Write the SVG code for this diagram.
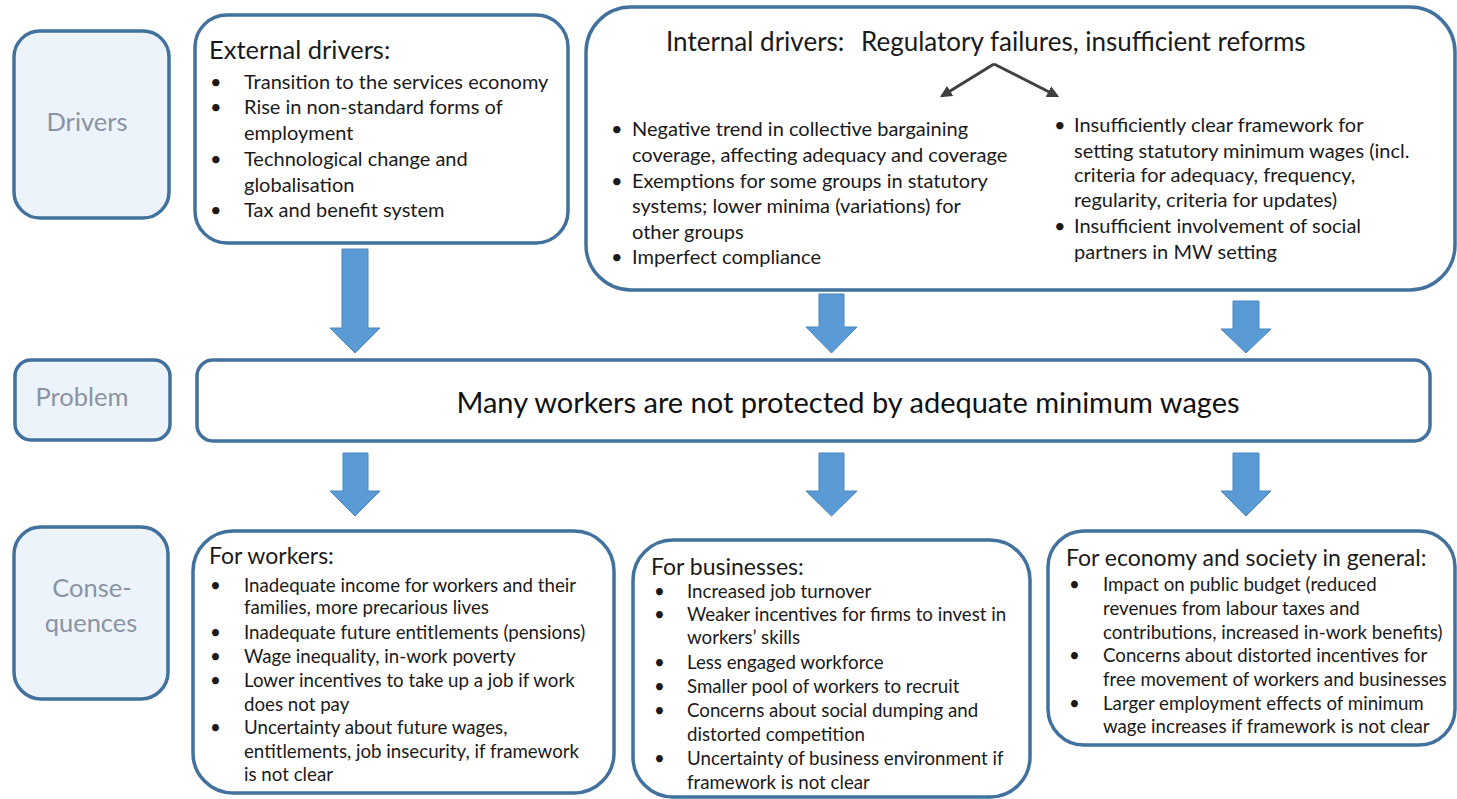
<svg xmlns="http://www.w3.org/2000/svg" width="1457" height="799" viewBox="0 0 1457 799">
<defs>
<style>
.lbl{fill:#EDF3FA;stroke:#41719C;stroke-width:3.5}
.box{fill:#FFFFFF;stroke:#41719C;stroke-width:3.5}
.lt{font-family:Lato,"Liberation Sans",sans-serif;font-size:25.5px;fill:#8A93A3;text-anchor:middle}
.t{font-family:Lato,"Liberation Sans",sans-serif;font-size:18.7px;fill:#1A1A1A}
.te{font-family:Lato,"Liberation Sans",sans-serif;font-size:20px;fill:#1A1A1A}
.h{font-family:Lato,"Liberation Sans",sans-serif;font-size:23px;fill:#1A1A1A}
.he{font-family:Lato,"Liberation Sans",sans-serif;font-size:25.5px;fill:#1A1A1A}
.c{font-family:Lato,"Liberation Sans",sans-serif;font-size:20px;fill:#1A1A1A}
.ch{font-family:Lato,"Liberation Sans",sans-serif;font-size:26px;fill:#1A1A1A}
.arr{fill:#5B9BD5;stroke:#4A86BE;stroke-width:1}
.split{stroke:#404040;stroke-width:3;fill:none;marker-end:url(#ah)}
</style>
<marker id="ah" viewBox="0 0 10 10" refX="8" refY="5" markerWidth="4" markerHeight="4" orient="auto" markerUnits="strokeWidth">
<path d="M0,0 L10,5 L0,10 Z" fill="#404040"/>
</marker>
</defs>

<g id="label-drivers">
<rect class="lbl" x="14" y="31" width="155" height="187" rx="26"/>
<text class="lt" x="87" y="131">Drivers</text>
</g>
<g id="label-problem">
<rect class="lbl" x="15" y="360" width="155" height="80" rx="16"/>
<text class="lt" x="82" y="406">Problem</text>
</g>
<g id="label-consequences">
<rect class="lbl" x="14" y="527" width="154" height="172" rx="27"/>
<text class="lt" x="92" y="597">Conse-</text>
<text class="lt" x="91" y="632">quences</text>
</g>

<g id="external-drivers">
<rect class="box" x="195" y="15" width="373" height="228" rx="32"/>
<text class="he" x="209" y="59">External drivers:</text>
<g class="te">
<text x="210" y="89">•</text><text x="244" y="89">Transition to the services economy</text>
<text x="210" y="114">•</text><text x="244" y="114">Rise in non-standard forms of</text>
<text x="244" y="140">employment</text>
<text x="210" y="166">•</text><text x="244" y="166">Technological change and</text>
<text x="244" y="192">globalisation</text>
<text x="210" y="217">•</text><text x="244" y="217">Tax and benefit system</text>
</g>
</g>

<g id="internal-drivers">
<rect class="box" x="586" y="7" width="869" height="283" rx="45"/>
<text class="ch" x="666" y="51">Internal drivers:<tspan x="861">Regulatory failures, insufficient reforms</tspan></text>
<g class="c">
<text x="611" y="136">•</text><text x="632" y="136">Negative trend in collective bargaining</text>
<text x="632" y="162">coverage, affecting adequacy and coverage</text>
<text x="611" y="188">•</text><text x="632" y="188">Exemptions for some groups in statutory</text>
<text x="632" y="213">systems; lower minima (variations) for</text>
<text x="632" y="239">other groups</text>
<text x="611" y="264">•</text><text x="632" y="264">Imperfect compliance</text>
<text x="1054" y="132">•</text><text x="1074" y="132">Insufficiently clear framework for</text>
<text x="1074" y="158">setting statutory minimum wages (incl.</text>
<text x="1074" y="182">criteria for adequacy, frequency,</text>
<text x="1074" y="207">regularity, criteria for updates)</text>
<text x="1054" y="233">•</text><text x="1074" y="233">Insufficient involvement of social</text>
<text x="1074" y="259">partners in MW setting</text>
</g>
</g>

<g id="problem">
<rect class="box" x="197" y="360" width="1233" height="81" rx="16"/>
<text x="848" y="413" text-anchor="middle" style="font-family:Lato,'Liberation Sans',sans-serif;font-size:29px;fill:#111">Many workers are not protected by adequate minimum wages</text>
</g>

<g id="for-workers">
<rect class="box" x="193" y="531" width="421" height="262" rx="40"/>
<text class="h" x="209" y="564">For workers:</text>
<g class="t">
<text x="210" y="592">•</text><text x="244" y="592">Inadequate income for workers and their</text>
<text x="244" y="614">families, more precarious lives</text>
<text x="210" y="639">•</text><text x="244" y="639">Inadequate future entitlements (pensions)</text>
<text x="210" y="663">•</text><text x="244" y="663">Wage inequality, in-work poverty</text>
<text x="210" y="687">•</text><text x="244" y="687">Lower incentives to take up a job if work</text>
<text x="244" y="711">does not pay</text>
<text x="210" y="734">•</text><text x="244" y="734">Uncertainty about future wages,</text>
<text x="244" y="758">entitlements, job insecurity, if framework</text>
<text x="244" y="781">is not clear</text>
</g>
</g>

<g id="for-businesses">
<rect class="box" x="633" y="540" width="397" height="257" rx="40"/>
<text class="h" x="651" y="575">For businesses:</text>
<g class="t">
<text x="654" y="598">•</text><text x="687" y="598">Increased job turnover</text>
<text x="654" y="621">•</text><text x="687" y="621">Weaker incentives for firms to invest in</text>
<text x="687" y="644">workers’ skills</text>
<text x="654" y="669">•</text><text x="687" y="669">Less engaged workforce</text>
<text x="654" y="693">•</text><text x="687" y="693">Smaller pool of workers to recruit</text>
<text x="654" y="717">•</text><text x="687" y="717">Concerns about social dumping and</text>
<text x="687" y="741">distorted competition</text>
<text x="654" y="765">•</text><text x="687" y="765">Uncertainty of business environment if</text>
<text x="687" y="789">framework is not clear</text>
</g>
</g>

<g id="for-economy">
<rect class="box" x="1048" y="531" width="407" height="214" rx="36"/>
<text class="h" x="1066" y="566">For economy and society in general:</text>
<g class="t">
<text x="1069" y="591">•</text><text x="1103" y="591">Impact on public budget (reduced</text>
<text x="1103" y="615">revenues from labour taxes and</text>
<text x="1103" y="639">contributions, increased in-work benefits)</text>
<text x="1069" y="662">•</text><text x="1103" y="662">Concerns about distorted incentives for</text>
<text x="1103" y="686">free movement of workers and businesses</text>
<text x="1069" y="710">•</text><text x="1103" y="710">Larger employment effects of minimum</text>
<text x="1103" y="733">wage increases if framework is not clear</text>
</g>
</g>

<g id="connectors">
<path class="arr" d="M342,249 H368 V328 H380 L355,353 L330,328 H342 Z"/>
<path class="arr" d="M819,294 H844 V327 H857 L831.5,353 L806,327 H819 Z"/>
<path class="arr" d="M1233,301 H1259 V329 H1271 L1246,353 L1221,329 H1233 Z"/>
<path class="arr" d="M343,453 H368 V491 H380 L355,516 L330,491 H343 Z"/>
<path class="arr" d="M819,453 H844 V491 H857 L831.5,516 L806,491 H819 Z"/>
<path class="arr" d="M1233,453 H1259 V491 H1271 L1246,516 L1221,491 H1233 Z"/>
<path class="split" d="M994,64 L942,96"/>
<path class="split" d="M994,64 L1057,96"/>
</g>
</svg>
